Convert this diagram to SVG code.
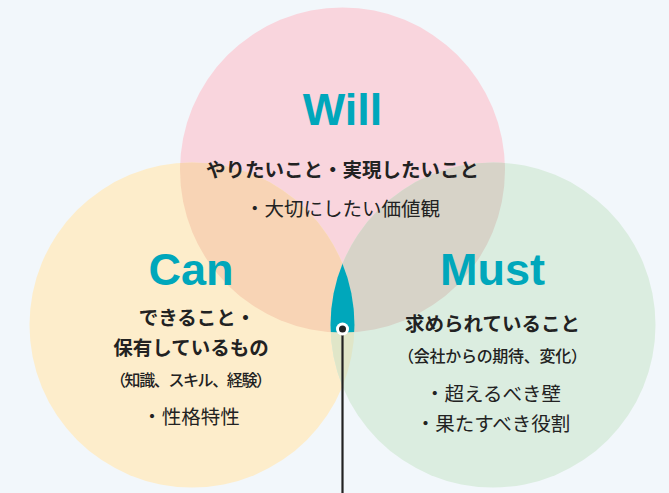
<svg xmlns="http://www.w3.org/2000/svg" width="669" height="493" viewBox="0 0 669 493">
<style>
.ttl{font-family:"Liberation Sans",Arial,sans-serif;font-weight:700;font-size:45px;fill:#00a7bb;text-anchor:middle}
.jb{font-family:"Noto Sans CJK JP","Noto Sans",sans-serif;font-weight:700;font-size:19.5px;fill:#222;text-anchor:middle}
.jr{font-family:"Noto Sans CJK JP","Noto Sans",sans-serif;font-weight:400;font-size:19.5px;fill:#222;text-anchor:middle}
.js{font-family:"Noto Sans CJK JP","Noto Sans",sans-serif;font-weight:500;font-size:16px;fill:#222;text-anchor:middle}
</style>
<defs>
<clipPath id="cCan"><circle cx="192" cy="325" r="162.5"/></clipPath>
<clipPath id="cMust"><circle cx="493" cy="325" r="162.5"/></clipPath>
<clipPath id="cWill"><circle cx="342.5" cy="170" r="162.5"/></clipPath>
</defs>
<rect width="669" height="493" fill="#f2f7fb"/>
<g id="circles">
<circle id="will-circle" cx="342.5" cy="170" r="162.5" fill="#f9d5dd"/>
<circle id="can-circle" cx="192" cy="325" r="162.5" fill="#fdedcb"/>
<circle id="must-circle" cx="493" cy="325" r="162.5" fill="#dbede0"/>
<g clip-path="url(#cCan)"><circle cx="342.5" cy="170" r="162.5" fill="#f8d4b5"/></g>
<g clip-path="url(#cMust)"><circle cx="342.5" cy="170" r="162.5" fill="#d7d3c8"/></g>
<g clip-path="url(#cMust)"><circle cx="192" cy="325" r="162.5" fill="#e0e6c8"/></g>
<g clip-path="url(#cCan)"><g clip-path="url(#cMust)"><circle cx="342.5" cy="170" r="162.5" fill="#00a7bb"/></g></g>
</g>
<g id="will">
<text class="ttl" x="342.5" y="125">Will</text>
<text class="jb" x="342.5" y="177">やりたいこと・実現したいこと</text>
<text class="jr" x="342.5" y="216">・大切にしたい価値観</text>
</g>
<g id="can">
<text class="ttl" x="191" y="285">Can</text>
<text class="jb" x="197" y="325">できること・</text>
<text class="jb" x="191" y="355">保有しているもの</text>
<text class="js" x="191" y="386" textLength="162" lengthAdjust="spacing">（知識、スキル、経験）</text>
<text class="jr" x="191" y="424">・性格特性</text>
</g>
<g id="must">
<text class="ttl" x="492.5" y="285">Must</text>
<text class="jb" x="492.5" y="331">求められていること</text>
<text class="js" x="492.5" y="362" textLength="189" lengthAdjust="spacing">（会社からの期待、変化）</text>
<text class="jr" x="493" y="401">・超えるべき壁</text>
<text class="jr" x="493" y="431">・果たすべき役割</text>
</g>
<g id="connectors">
<line x1="342.5" y1="329" x2="342.5" y2="493" stroke="#222" stroke-width="2.2"/>
<circle cx="342.5" cy="329" r="6.5" fill="#fff"/>
<circle cx="342.5" cy="329" r="3.5" fill="#222"/>
</g>
</svg>
